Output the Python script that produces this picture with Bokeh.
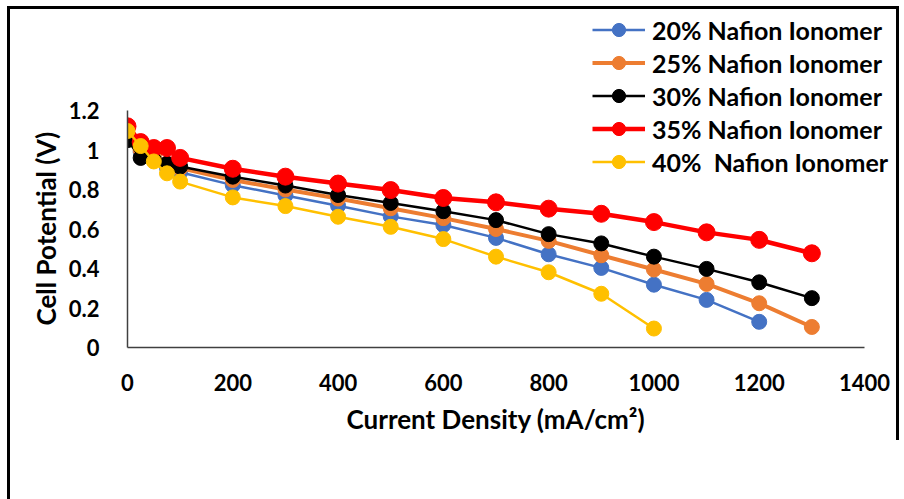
from bokeh.plotting import figure
from bokeh.models import Range1d, FixedTicker, Legend, LegendItem, Title
from bokeh.embed import file_html
from bokeh.resources import INLINE

# ---- data ----
x_full = [0, 25, 50, 75, 100, 200, 300, 400, 500, 600, 700, 800, 900, 1000, 1100, 1200, 1300]
y_20 = [1.07, 0.99, 0.96, 0.91, 0.887, 0.822, 0.770, 0.718, 0.664, 0.620, 0.555, 0.472, 0.403, 0.318, 0.241, 0.130]
y_25 = [1.08, 1.00, 0.97, 0.93, 0.908, 0.848, 0.800, 0.754, 0.705, 0.655, 0.600, 0.540, 0.467, 0.395, 0.322, 0.224, 0.104]
y_30 = [1.05, 0.96, 0.95, 0.93, 0.916, 0.865, 0.820, 0.772, 0.732, 0.690, 0.645, 0.574, 0.527, 0.460, 0.398, 0.330, 0.250]
y_35 = [1.12, 1.04, 1.01, 1.01, 0.96, 0.905, 0.865, 0.830, 0.797, 0.757, 0.735, 0.703, 0.677, 0.635, 0.583, 0.545, 0.477]
y_40 = [1.096, 1.02, 0.942, 0.882, 0.84, 0.76, 0.716, 0.662, 0.611, 0.549, 0.460, 0.381, 0.272, 0.096]

labels = ["20% Nafion Ionomer", "25% Nafion Ionomer", "30% Nafion Ionomer",
          "35% Nafion Ionomer", "40%  Nafion Ionomer"]
colors = ["#4472C4", "#ED7D31", "#000000", "#FF0000", "#FFC000"]
line_widths = [2.5, 4, 2.5, 4.5, 2.5]
marker_sizes = [15, 15, 15, 17, 15]

x_ticks = [0, 200, 400, 600, 800, 1000, 1200, 1400]
y_ticks = [0, 0.2, 0.4, 0.6, 0.8, 1, 1.2]
y_tick_labels = ["0", "0.2", "0.4", "0.6", "0.8", "1", "1.2"]
x_title = "Current Density (mA/cm²)"
y_title = "Cell Potential (V)"

FONT = "Lato"

# frame: left 127, right 897, top 7, bottom 347 ; axis 0..1400 spans 127..864, 0..1.2 spans 347..110
x_end = 1400 * (897 - 127) / (864 - 127)
y_end = 1.2 * (347 - 7) / (347 - 110)

p = figure(width=904, height=499, output_backend="svg", toolbar_location=None,
           x_range=Range1d(0, x_end), y_range=Range1d(0, y_end),
           min_border_left=127, min_border_right=7, min_border_top=7, min_border_bottom=152)
p.outline_line_color = None
p.xgrid.visible = False
p.ygrid.visible = False
p.background_fill_color = None
p.border_fill_color = None
p.styles = {
    "background-color": "white",
    "background-image": "linear-gradient(#000,#000), linear-gradient(#000,#000), linear-gradient(#000,#000)",
    "background-position": "7px 6px, 7px 6px, 896px 6px",
    "background-size": "891px 3px, 3px 493px, 3px 434px",
    "background-repeat": "no-repeat",
}

series = [y_20, y_25, y_30, y_35, y_40]
items = []
for ys, lab, c, lw, ms in zip(series, labels, colors, line_widths, marker_sizes):
    xs = x_full[:len(ys)]
    r1 = p.line(xs, ys, line_color=c, line_width=lw)
    r2 = p.scatter(xs, ys, marker="circle", size=ms, fill_color=c, line_color=c)
    items.append(LegendItem(label=lab, renderers=[r1, r2]))

legend = Legend(items=items, location=(465, 169), orientation="vertical",
                glyph_width=53, glyph_height=33, label_height=33, spacing=0,
                label_standoff=7, padding=0, margin=0,
                border_line_color=None, background_fill_alpha=0,
                label_text_font=FONT, label_text_font_style="bold",
                label_text_font_size="25px", label_text_color="#000000")
p.add_layout(legend, "center")

for ax in (p.xaxis[0], p.yaxis[0]):
    ax.axis_line_color = "#404040"
    ax.axis_line_width = 1.5
    ax.major_tick_line_color = None
    ax.minor_tick_line_color = None
    ax.major_label_text_font = FONT
    ax.major_label_text_font_style = "bold"
    ax.major_label_text_font_size = "22px"
    ax.major_label_text_color = "#000000"

p.xaxis.bounds = (0, 1400)
p.yaxis.bounds = (0, 1.2)
p.xaxis.ticker = FixedTicker(ticks=x_ticks)
p.yaxis.ticker = FixedTicker(ticks=y_ticks)
p.yaxis.major_label_overrides = {t: s for t, s in zip(y_ticks, y_tick_labels)}
p.xaxis.major_label_standoff = 20
p.yaxis.major_label_standoff = 22

# axis titles as Titles so they can be centred on the axis span, not the whole frame
ty = Title(text=y_title, align="left", offset=22, standoff=8,
           text_font=FONT, text_font_style="bold", text_font_size="26px", text_color="#000000")
p.add_layout(ty, "left")
tx = Title(text=x_title, align="left", offset=219, standoff=18, vertical_align="top",
           text_font=FONT, text_font_style="bold", text_font_size="26px", text_color="#000000")
p.add_layout(tx, "below")

open("out.html", "w").write(file_html(p, INLINE))
